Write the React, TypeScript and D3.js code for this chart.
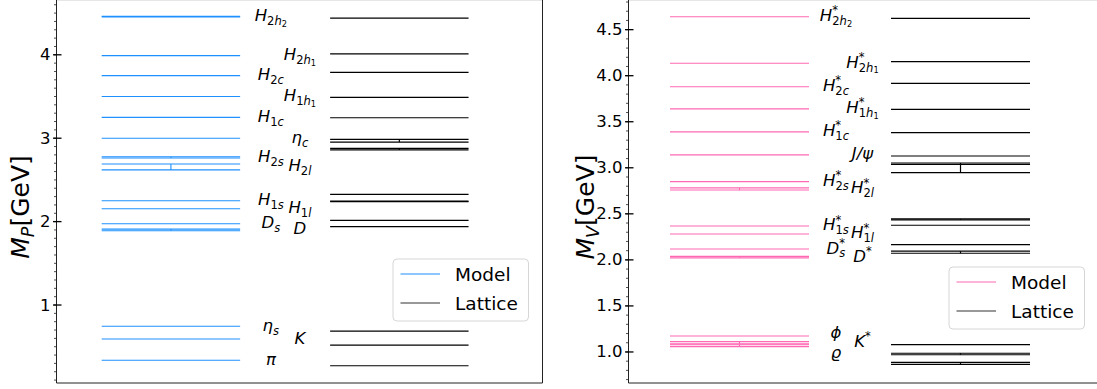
import React from 'react';
import * as d3 from 'd3';

// pseudoscalar masses (GeV), model vs lattice, with half-spread where a level is doubled
const pModel = [4.457, 3.99, 3.75, 3.5, 3.25, 3.0, 2.77, 2.655, 2.25, 2.155, 1.975, 1.9, 0.745, 0.592, 0.337];
const pModelErr = [0.004, 0, 0, 0, 0, 0, 0.008, 0.035, 0, 0, 0, 0.01, 0, 0, 0];
const pLattice = [4.44, 4.01, 3.79, 3.49, 3.245, 2.97, 2.869, 2.327, 2.243, 2.016, 1.94, 0.688, 0.52, 0.272];
const pLatticeErr = [0, 0, 0, 0, 0, 0.016, 0.01, 0, 0.004, 0, 0, 0, 0, 0];
const pNames = ['H|2h|2', 'H|2h|1', 'H|2c', 'H|1h|1', 'H|1c', 'η|c', 'H|2s', 'H|2l', 'H|1s', 'H|1l', 'D|s', 'D', 'η|s', 'K', 'π'];

// vector masses (GeV)
const vModel = [4.64, 4.135, 3.88, 3.64, 3.39, 3.14, 2.85, 2.77, 2.368, 2.281, 2.118, 2.03, 1.174, 1.1, 1.068];
const vModelErr = [0, 0, 0, 0, 0, 0, 0, 0.012, 0, 0, 0, 0.008, 0, 0.012, 0.01];
const vLattice = [4.623, 4.152, 3.917, 3.635, 3.381, 3.128, 3.037, 3.0, 2.44, 2.376, 2.165, 2.083, 1.079, 0.978, 0.877];
const vLatticeErr = [0, 0, 0, 0, 0, 0, 0, 0.052, 0.005, 0, 0, 0.011, 0, 0.008, 0.011];
const vNames = ['H*|2h|2', 'H*|2h|1', 'H*|2c', 'H*|1h|1', 'H*|1c', 'J/ψ', 'H*|2s', 'H*|2l', 'H*|1s', 'H*|1l', 'D*|s', 'D*', 'ϕ', 'K*', 'ϱ'];

const pTicks = [1, 2, 3, 4];
const vTicks = [1.0, 1.5, 2.0, 2.5, 3.0, 3.5, 4.0, 4.5];

const FONT = 'DejaVu Sans';

function Chars({ s }: { s: string }) {
  // letters italic, digits upright, like mathtext
  return (
    <>
      {s.split('').map((c, i) => (
        <tspan key={i} fontStyle={/[0-9]/.test(c) ? 'normal' : 'italic'}>{c}</tspan>
      ))}
    </>
  );
}

function MathLabel({ x, y, name, size }: { x: number; y: number; name: string; size: number }) {
  const [head, sub, ss] = name.split('|');
  const star = head.length > 1 && head.endsWith('*');
  const base = star ? head.slice(0, -1) : head;
  const s1 = size * 0.7;
  const s2 = size * 0.5;
  return (
    <text x={x} y={y} textAnchor="middle" fontFamily={FONT} fontSize={size} fill="#000">
      <Chars s={base} />
      {star && <tspan fontSize={s1} dy={-size * 0.42}>*</tspan>}
      {sub && (
        <tspan fontSize={s1} dx={star ? -s1 * 0.5 : 0} dy={star ? size * 0.42 + size * 0.24 : size * 0.24}>
          <Chars s={sub} />
        </tspan>
      )}
      {ss && (
        <tspan fontSize={s2} dy={size * 0.1}>
          <Chars s={ss} />
        </tspan>
      )}
    </text>
  );
}

type PanelProps = {
  model: number[];
  modelErr: number[];
  lattice: number[];
  latticeErr: number[];
  names: string[];
  nudge: number[];
  ticks: number[];
  tickFmt: (v: number) => string;
  yDomain: [number, number];
  xDomain: [number, number];
  xRange: [number, number];
  latStart: number;
  labelCols: [number, number];
  color: string;
  sub: string;
  rightSpine: boolean;
  legendX: number;
  legendY: number;
  ylabelX: number;
};

function Levels({ vals, errs, x0, x1, y, color, width }: any) {
  const xm = (x0 + x1) / 2;
  return (
    <g>
      {vals.map((m: number, i: number) => {
        const e = errs[i] || 0;
        return (
          <g key={i}>
            <line x1={x0} x2={x1} y1={y(m + e)} y2={y(m + e)} stroke={color} strokeWidth={width} />
            {e > 0 && (
              <>
                <line x1={x0} x2={x1} y1={y(m - e)} y2={y(m - e)} stroke={color} strokeWidth={width} />
                <line x1={xm} x2={xm} y1={y(m + e)} y2={y(m - e)} stroke={color} strokeWidth={width} />
              </>
            )}
          </g>
        );
      })}
    </g>
  );
}

function Panel(p: PanelProps) {
  const top = 0;
  const bottom = 383;
  const y = d3.scaleLinear().domain(p.yDomain).range([bottom, top]);
  const x = d3.scaleLinear().domain(p.xDomain).range(p.xRange);
  const sx = p.xRange[0];
  const minor = d3.range(Math.ceil(p.yDomain[0] * 10), Math.floor(p.yDomain[1] * 10) + 1).map((v) => v / 10);
  return (
    <g>
      <line x1={sx} x2={p.xRange[1]} y1={0.5} y2={0.5} stroke="#e6e6e6" />
      <Levels vals={p.model} errs={p.modelErr} x0={x(0)} x1={x(1)} y={y} color={p.color} width={1.1} />
      <Levels vals={p.lattice} errs={p.latticeErr} x0={x(p.latStart)} x1={x(p.latStart + 1)} y={y} color="#000" width={1.2} />
      {p.names.map((n, i) => (
        <MathLabel key={n} x={x(p.labelCols[i % 2])} y={y(p.model[i]) + 4.5 + (p.nudge[i] || 0)} name={n} size={16.5} />
      ))}
      {/* axes */}
      <line x1={sx} x2={sx} y1={0} y2={bottom} stroke="#222" strokeWidth={1} />
      <line x1={sx} x2={p.xRange[1]} y1={bottom} y2={bottom} stroke="#222" strokeWidth={1} />
      {p.rightSpine && <line x1={p.xRange[1]} x2={p.xRange[1]} y1={0} y2={bottom} stroke="#222" strokeWidth={1} />}
      {minor.map((v) => (
        <line key={v} x1={sx - 2.5} x2={sx} y1={y(v)} y2={y(v)} stroke="#222" strokeWidth={0.8} />
      ))}
      {p.ticks.map((v) => (
        <g key={v}>
          <line x1={sx - 3.5} x2={sx + 5} y1={y(v)} y2={y(v)} stroke="#000" strokeWidth={1.3} />
          <text x={sx - 6} y={y(v) + 5.5} textAnchor="end" fontFamily={FONT} fontSize={16.5}>
            {p.tickFmt(v)}
          </text>
        </g>
      ))}
      <text transform={`translate(${p.ylabelX},207) rotate(-90)`} textAnchor="middle" fontFamily={FONT} fontSize={25}>
        <tspan fontStyle="italic">M</tspan>
        <tspan fontStyle="italic" fontSize={17.5} dy={5}>{p.sub}</tspan>
        <tspan dy={-5}>[GeV]</tspan>
      </text>
      {/* legend */}
      <g transform={`translate(${p.legendX},${p.legendY})`}>
        <rect x={0} y={0} width={135.5} height={62} rx={4} fill="#fff" fillOpacity={0.8} stroke="#d6d6d6" />
        <line x1={7.5} x2={47} y1={15} y2={15} stroke={p.color} strokeWidth={1.1} />
        <line x1={7.5} x2={47} y1={44} y2={44} stroke="#333" strokeWidth={1.2} />
        <text x={62} y={21.5} fontFamily={FONT} fontSize={18.5}>Model</text>
        <text x={62} y={50.5} fontFamily={FONT} fontSize={18.5}>Lattice</text>
      </g>
    </g>
  );
}

export default function App() {
  return (
    <svg width={1097} height={389} style={{ position: 'absolute', left: 0, top: 0, background: '#fff' }}>
      <Panel
        model={pModel}
        modelErr={pModelErr}
        lattice={pLattice}
        latticeErr={pLatticeErr}
        names={pNames}
        nudge={[]}
        ticks={pTicks}
        tickFmt={(v) => String(v)}
        yDomain={[0.065, 4.657]}
        xDomain={[-0.3264, 3.1841]}
        xRange={[56.5, 542.5]}
        latStart={1.65}
        labelCols={[1.222, 1.432]}
        color="#1e90ff"
        sub="P"
        rightSpine={true}
        legendX={393}
        legendY={259}
        ylabelX={29}
      />
      <Panel
        model={vModel}
        modelErr={vModelErr}
        lattice={vLattice}
        latticeErr={vLatticeErr}
        names={vNames}
        nudge={[0, 0, 0, 0, 0, 0, 0, 0, 0, 0, 0, 0, -2, 0, 8]}
        ticks={vTicks}
        tickFmt={(v) => v.toFixed(1)}
        yDomain={[0.663, 4.822]}
        xDomain={[-0.2986, 3.1245]}
        xRange={[628.5, 1104.3]}
        latStart={1.59}
        labelCols={[1.194, 1.385]}
        color="#ff69b4"
        sub="V"
        rightSpine={false}
        legendX={949}
        legendY={267}
        ylabelX={594}
      />
    </svg>
  );
}
